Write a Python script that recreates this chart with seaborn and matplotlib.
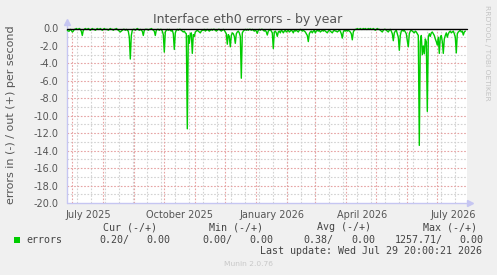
import numpy as np
import pandas as pd
import matplotlib
matplotlib.use("Agg")
import matplotlib.pyplot as plt
import matplotlib.dates as mdates
import seaborn as sns

# ---------------- data ----------------
start_date = "2025-06-26"
errors_in = [
    -0.2, -0.3, -0.3, -0.1, -0.2, -0.4, -0.3, -0.1, -0.1, -0.0, -0.1, -0.1, -0.0, -0.1, -0.3, -0.8, -0.2, -0.1, -0.0, -0.1,
    -0.1, -0.0, -0.1, -0.2, -0.1, -0.0, -0.1, -0.1, -0.2, -0.1, -0.0, -0.1, -0.1, -0.0, -0.1, -0.2, -0.1, -0.0, -0.1, -0.1,
    -0.1, -0.2, -0.1, -0.0, -0.1, -0.1, -0.2, -0.1, -0.1, -0.0, -0.1, -0.2, -0.3, -0.4, -0.3, -0.2, -0.1, -0.1, -0.2, -0.1,
    -0.2, -0.3, -1.0, -3.5, -0.8, -0.2, -0.1, -0.1, -0.2, -0.1, -0.0, -0.1, -0.2, -0.1, -0.2, -0.3, -0.8, -0.2, -0.1, -0.1,
    -0.1, -0.2, -0.1, -0.1, -0.0, -0.1, -0.2, -0.3, -0.8, -0.2, -0.1, -0.1, -0.2, -0.1, -0.1, -0.3, -0.7, -2.7, -0.4, -0.2,
    -0.1, -0.2, -0.1, -0.2, -0.3, -0.2, -0.6, -2.4, -0.5, -0.2, -0.1, -0.2, -0.1, -0.1, -0.2, -0.3, -0.4, -0.3, -0.5, -0.6,
    -11.5, -0.8, -1.7, -0.6, -0.5, -2.85, -0.7, -0.9, -0.4, -0.3, -0.2, -0.3, -0.4, -0.5, -0.3, -0.2, -0.2, -0.1, -0.3, -0.2,
    -0.1, -0.2, -0.3, -0.2, -0.1, -0.2, -0.1, -0.1, -0.2, -0.3, -0.2, -0.1, -0.1, -0.2, -0.3, -0.2, -0.1, -0.2, -0.4, -0.6,
    -1.8, -0.7, -0.9, -2.1, -0.8, -0.5, -0.6, -0.9, -1.7, -0.6, -0.4, -0.3, -0.5, -0.9, -5.7, -0.5, -0.3, -0.2, -0.1, -0.2,
    -0.1, -0.2, -0.1, -0.1, -0.2, -0.1, -0.2, -0.3, -0.2, -0.3, -0.55, -0.2, -0.1, -0.2, -0.1, -0.1, -0.2, -0.3, -0.2, -0.4,
    -0.75, -0.3, -0.2, -0.1, -0.3, -0.5, -2.3, -0.4, -0.3, -0.5, -0.9, -0.4, -0.3, -0.5, -0.2, -0.3, -0.5, -0.3, -0.2, -0.4,
    -0.3, -0.2, -0.4, -0.3, -0.2, -0.3, -0.5, -0.2, -0.3, -0.2, -0.3, -0.4, -0.2, -0.1, -0.2, -0.3, -0.2, -0.3, -0.4, -0.6,
    -0.8, -1.5, -0.6, -0.4, -0.3, -0.5, -0.3, -0.2, -0.5, -0.3, -0.2, -0.3, -0.2, -0.4, -0.3, -0.2, -0.3, -0.2, -0.3, -0.4,
    -0.5, -0.3, -0.2, -0.3, -0.4, -0.5, -0.3, -0.2, -0.3, -0.3, -0.4, -0.3, -0.2, -0.3, -0.6, -1.1, -0.4, -0.2, -0.3, -0.2,
    -0.3, -0.2, -0.3, -0.4, -0.6, -1.3, -0.4, -0.2, -0.1, -0.1, -0.0, -0.1, -0.1, -0.0, -0.1, -0.1, -0.0, -0.1, -0.0, -0.1,
    -0.1, -0.0, -0.1, -0.0, -0.1, -0.1, -0.0, -0.1, -0.2, -0.1, -0.0, -0.1, -0.1, -0.2, -0.3, -0.4, -0.2, -0.1, -0.1, -0.2,
    -0.3, -0.4, -0.2, -0.1, -0.3, -0.6, -1.4, -0.5, -0.3, -0.2, -0.6, -1.0, -2.5, -0.8, -0.3, -0.2, -0.3, -0.2, -0.4, -0.6,
    -1.4, -2.1, -0.6, -0.3, -0.2, -0.3, -0.4, -0.5, -0.3, -0.4, -0.6, -0.8, -13.4, -1.5, -0.8, -3.0, -2.0, -2.9, -1.2, -1.5,
    -9.5, -1.0, -0.6, -0.9, -0.5, -0.4, -0.6, -0.8, -1.2, -1.5, -1.9, -1.0, -2.85, -1.0, -0.8, -1.5, -2.85, -1.2, -0.8, -0.5,
    -1.0, -0.6, -0.4, -0.3, -0.5, -0.4, -0.3, -0.6, -1.0, -2.8, -0.6, -0.4, -0.3, -0.2, -0.4, -0.3, -0.75, -0.4, -0.3,
]
x_label_dates = ["2025-07-16 12:00", "2025-10-16 12:00", "2026-01-16 12:00", "2026-04-16 12:00", "2026-07-16 12:00"]
x_labels = ["July 2025", "October 2025", "January 2026", "April 2026", "July 2026"]
y_major = [0, -2, -4, -6, -8, -10, -12, -14, -16, -18, -20]
y_labels = ["0.0", "-2.0", "-4.0", "-6.0", "-8.0", "-10.0", "-12.0", "-14.0", "-16.0", "-18.0", "-20.0"]
legend_name = "errors"
cur_vals = ["0.20/", "0.00"]
min_vals = ["0.00/", "0.00"]
avg_vals = ["0.38/", "0.00"]
max_vals = ["1257.71/", "0.00"]
last_update = "Last update: Wed Jul 29 20:00:21 2026"

# ---------------- figure ----------------
W, H = 497, 275
sns.set_style("white")
plt.rcParams["font.family"] = ["DejaVu Sans"]

fig = plt.figure(figsize=(W / 100, H / 100), dpi=100, facecolor="#F0F0F0")
L, R, T, B = 67, 467, 28.5, 203
ax = fig.add_axes([L / W, 1 - B / H, (R - L) / W, (B - T) / H])
ax.set_facecolor("white")

dates = pd.date_range(start_date, periods=len(errors_in), freq="D")
df = pd.DataFrame({"date": dates, "errors": errors_in})

d0 = mdates.date2num(pd.Timestamp(start_date))
ax.set_xlim(d0 - 0.3, d0 + 399.7)
ax.set_ylim(-20, 0)

red = "#E6A3A3"
grey = "#D2D2D2"
axis_col = "#C6C6F2"

# minor vertical grid (every 2 weeks)
for k in range(10, 400, 14):
    ax.axvline(d0 + k, color=grey, lw=0.8, ls=(0, (1.5, 1.5)), zorder=1)
# horizontal minor grid
for v in range(-19, 0, 2):
    ax.axhline(v, color=grey, lw=0.8, ls=(0, (1.5, 1.5)), zorder=1)
# major grid
months = pd.date_range("2025-07-01", "2026-07-01", freq="MS")
for m in months:
    ax.axvline(mdates.date2num(m), color=red, lw=0.8, ls=(0, (1.5, 1.5)), zorder=2)
for v in range(-18, 0, 2):
    ax.axhline(v, color=red, lw=0.8, ls=(0, (1.5, 1.5)), zorder=2)

sns.lineplot(data=df, x="date", y="errors", ax=ax, color="#00CC00", lw=1.0, zorder=4)
ax.lines[-1].set_clip_on(False)
ax.axhline(0, color="black", lw=1.0, zorder=5, clip_on=False)

for s in ["top", "right"]:
    ax.spines[s].set_visible(False)
for s in ["left", "bottom"]:
    ax.spines[s].set_visible(False)
# axis lines with arrows
ax.plot([0, 0], [0, 1.035], transform=ax.transAxes, color=axis_col, lw=1, clip_on=False, zorder=3)
ax.plot([0, 1.0075], [0, 0], transform=ax.transAxes, color=axis_col, lw=1, clip_on=False, zorder=3)
ax.plot([0], [1.035], marker="^", ms=5, color=axis_col, transform=ax.transAxes, clip_on=False, zorder=3)
ax.plot([1.0075], [0], marker=">", ms=5, color=axis_col, transform=ax.transAxes, clip_on=False, zorder=3)

txt = "#555555"
ax.set_yticks(y_major)
ax.set_yticklabels(y_labels)
ax.tick_params(axis="y", length=2, width=0.8, color=red, pad=4, labelsize=7, labelcolor=txt)
ax.set_xticks([mdates.date2num(pd.Timestamp(d)) for d in x_label_dates])
ax.set_xticklabels(x_labels)
ax.tick_params(axis="x", which="major", length=0, pad=5, labelsize=7, labelcolor=txt)
ax.set_xticks([mdates.date2num(m) for m in months], minor=True)
ax.tick_params(axis="x", which="minor", length=3, width=0.8, color=red)
ax.set_xlabel("")
ax.set_ylabel("")

# texts
fig.text(248 / W, 1 - 19.5 / H, "Interface eth0 errors - by year", ha="center", va="center",
         fontsize=9, color=txt)
fig.text(11 / W, 1 - 115 / H, "errors in (-) / out (+) per second", rotation=90,
         ha="center", va="center", fontsize=8, color=txt)
fig.text(487 / W, 1 - 53 / H, "RRDTOOL / TOBI OETIKER", rotation=270, ha="center", va="center",
         fontsize=5.4, color="#C4C4C4")
fig.text(248 / W, 1 - 264 / H, "Munin 2.0.76", ha="center", va="center", fontsize=5.4, color="#C8C8C8")

mono = dict(family="DejaVu Sans Mono", fontsize=7.2, color="#444444", va="center", ha="left")
hy = 1 - 227.3 / H
fig.text(102.7 / W, hy, "Cur (-/+)", **mono)
fig.text(209 / W, hy, "Min (-/+)", **mono)
fig.text(316.7 / W, hy, "Avg (-/+)", **mono)
fig.text(422.7 / W, hy, "Max (-/+)", **mono)
ry = 1 - 239.7 / H
fig.patches.append(plt.Rectangle((14 / W, 1 - 242.5 / H), 5.8 / W, 5.5 / H, transform=fig.transFigure,
                                 facecolor="#00CC00", edgecolor="none"))
fig.text(26 / W, ry, legend_name, **mono)
fig.text(99.3 / W, ry, cur_vals[0], **mono)
fig.text(146.7 / W, ry, cur_vals[1], **mono)
fig.text(202 / W, ry, min_vals[0], **mono)
fig.text(249 / W, ry, min_vals[1], **mono)
fig.text(303.3 / W, ry, avg_vals[0], **mono)
fig.text(351 / W, ry, avg_vals[1], **mono)
fig.text(394.3 / W, ry, max_vals[0], **mono)
fig.text(459 / W, ry, max_vals[1], **mono)
fig.text(482.3 / W, 1 - 251.3 / H, last_update, **{**mono, "ha": "right"})

fig.savefig("out.png", dpi=100, facecolor=fig.get_facecolor())
